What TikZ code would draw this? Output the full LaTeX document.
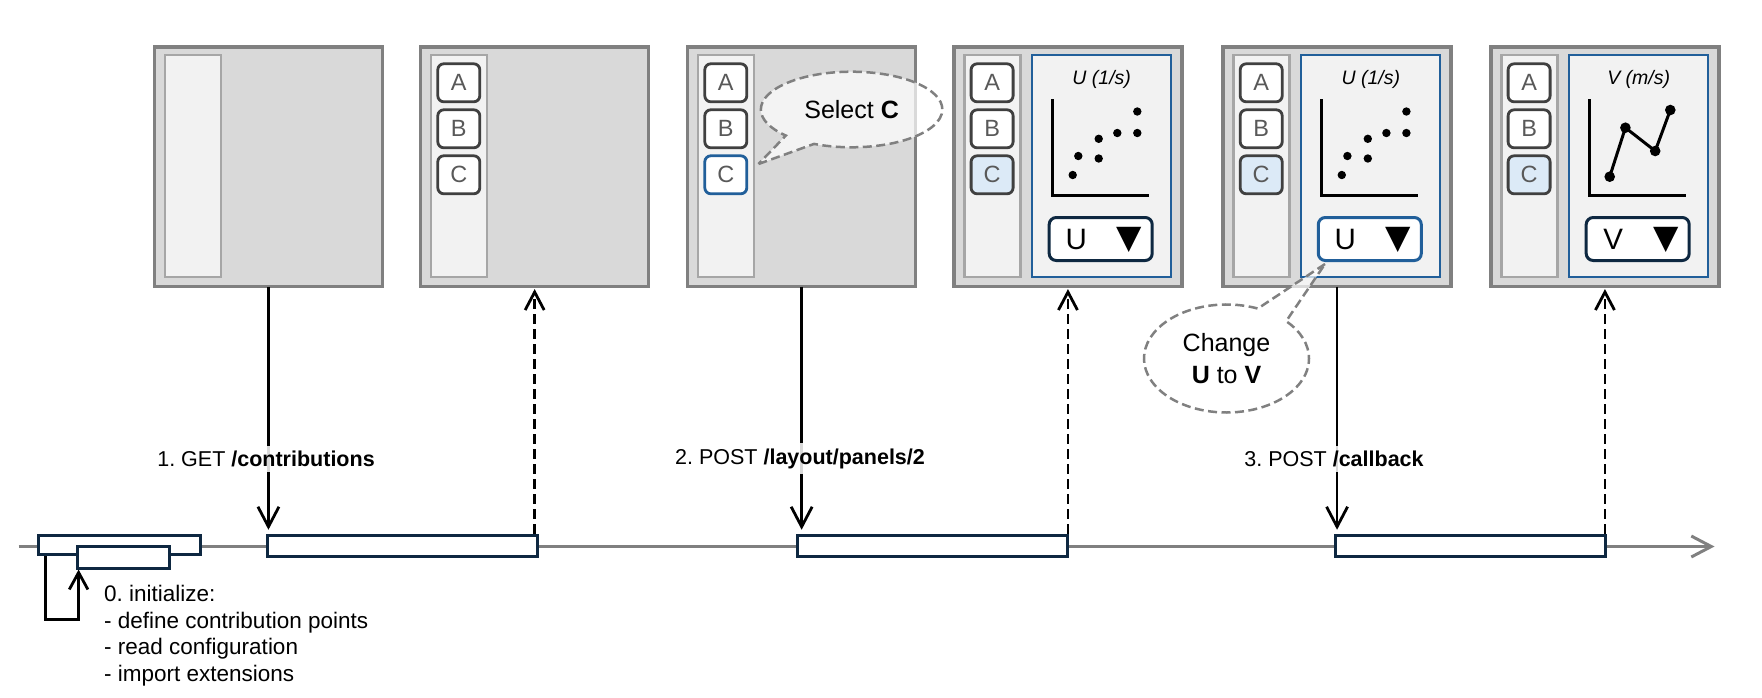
\documentclass[tikz,border=0pt]{standalone}
\usepackage{fontspec}
\setmainfont{Liberation Sans}
\newfontfamily\symfont{DejaVu Sans}
\usetikzlibrary{arrows.meta,shapes.callouts}
\frenchspacing
\definecolor{panelbg}{HTML}{D9D9D9}
\definecolor{pborder}{HTML}{808080}
\definecolor{sidebg}{HTML}{F2F2F2}
\definecolor{sideborder}{HTML}{A6A6A6}
\definecolor{btnborder}{HTML}{404040}
\definecolor{btntext}{HTML}{595959}
\definecolor{selblue}{HTML}{DCEAF7}
\definecolor{accblue}{HTML}{215F9A}
\definecolor{navy}{HTML}{0E2841}
\definecolor{tlgray}{HTML}{808080}

\newcommand\mkpanel[2]{%
  \node[panel] (#1) at (#2+1.75,46.75) {};
  \node[sidebar] (#1s) at (#2+12.3,55.2) {};
}
\newcommand\mkbtns[3]{%
  \node[btn] (#1A) at (#2+39.9,82.8) {A};
  \node[btn] (#1B) at (#2+39.9,128.8) {B};
  \node[btn,#3] (#1C) at (#2+39.9,174.8) {C};
}
\newcommand\mkplot[3]{%
  \node[plotbox] (#1p) at (#2+79.8,55) {};
  \node[ptitle] (#1t) at (#2+149.5,79.5) {#3};
  \draw[axis] (#2+100.5,99.3) -- (#2+100.5,195.3) -- (#2+196.8,195.3);
}
\newcommand\mkdrop[4]{%
  \node[drop,#4] (#1d) at (#2+148.5,239) {};
  \node[ddtext] (#1dl) at (#2+124,239.5) {#3};
  \node[ddtri] (#1dt) at (#2+177.3,240) {▼};
}
\newcommand\mkscatter[1]{%
  \foreach \px/\py in {120.5/175,126.1/156,146.5/158.5,146.5/138.8,165.1/133,185.1/133,185.1/111.5}
    {\fill (#1+\px,\py) circle[radius=4.2pt];}
}

\begin{document}
\begin{tikzpicture}[x=1pt,y=-1pt,
  panel/.style={draw=pborder,line width=3.5pt,fill=panelbg,minimum width=228pt,minimum height=239.8pt,anchor=north west,inner sep=0pt,outer sep=0pt},
  sidebar/.style={draw=sideborder,line width=2.5pt,fill=sidebg,minimum width=56pt,minimum height=222pt,anchor=north west,inner sep=0pt,outer sep=0pt},
  btn/.style={draw=btnborder,line width=2.8pt,fill=white,rounded corners=6pt,minimum width=42pt,minimum height=38pt,inner sep=0pt,text=btntext,font=\fontsize{23.5}{23.5}\selectfont},
  btnsel/.style={fill=selblue},
  btnfocus/.style={draw=accblue},
  plotbox/.style={draw=accblue,line width=2pt,fill=sidebg,minimum width=138.7pt,minimum height=222.3pt,anchor=north west,inner sep=0pt,outer sep=0pt},
  ptitle/.style={font=\fontsize{19.5}{19.5}\selectfont\itshape,inner sep=0pt},
  axis/.style={line width=3pt},
  drop/.style={draw=navy,line width=3pt,fill=white,rounded corners=7pt,minimum width=103pt,minimum height=43pt,inner sep=0pt},
  dropfocus/.style={draw=accblue},
  ddtext/.style={font=\fontsize{29.5}{29.5}\selectfont,inner sep=0pt},
  ddtri/.style={font=\symfont\fontsize{33}{33}\selectfont,inner sep=0pt},
  act/.style={draw=navy,line width=3pt,fill=white,minimum height=21.5pt,inner sep=0pt,anchor=west},
  req/.style={line width=2.8pt,-{Straight Barb[length=20pt,width=21pt]},shorten >=4pt},
  res/.style={line width=2.8pt,dash pattern=on 10pt off 5pt,-{Straight Barb[length=18pt,width=19pt]},shorten >=2.5pt},
  lbl/.style={fill=white,fill opacity=0.85,text opacity=1,inner xsep=2pt,inner ysep=5pt,font=\fontsize{21.5}{21.5}\selectfont},
  bubble/.style={ellipse callout,draw=pborder,line width=2.5pt,dash pattern=on 9pt off 4.5pt,fill=white,fill opacity=0.7,text opacity=1,inner sep=0pt,font=\fontsize{25}{31.6}\selectfont,align=center},
  timeline/.style={draw=tlgray,line width=3pt,-{Straight Barb[length=20pt,width=21pt]}}
]
\useasboundingbox (0,0) rectangle (1762,697);

% timeline
\coordinate (t0) at (18.6,546.5);
\coordinate (t1) at (1714.5,546.5);
\draw[timeline] (t0) -- (t1);

% panels
\mkpanel{p1}{152.7}
\mkpanel{p2}{418.9}
\mkbtns{p2}{418.9}{}
\mkpanel{p3}{685.9}
\mkbtns{p3}{685.9}{btnfocus}
\mkpanel{p4}{952.2}
\mkbtns{p4}{952.2}{btnsel}
\mkplot{p4}{952.2}{U (1/s)}
\mkscatter{952.2}
\mkdrop{p4}{952.2}{U}{}
\mkpanel{p5}{1221.3}
\mkbtns{p5}{1221.3}{btnsel}
\mkplot{p5}{1221.3}{U (1/s)}
\mkscatter{1221.3}
\mkdrop{p5}{1221.3}{U}{dropfocus}
\mkpanel{p6}{1489.2}
\mkbtns{p6}{1489.2}{btnsel}
\mkplot{p6}{1489.2}{V (m/s)}
\draw[line width=3pt] (1489.2+120.5,176.7) -- (1489.2+136.2,127.7) -- (1489.2+166,151) -- (1489.2+181.1,110);
\foreach \px/\py in {120.5/176.7,136.2/127.7,166/151,181.1/110}
  {\fill (1489.2+\px,\py) circle[radius=5.3pt];}
\mkdrop{p6}{1489.2}{V}{}

% activation boxes
\node[act,minimum width=161.8pt,minimum height=19.7pt] (ib1) at (36.8,544.9) {};
\node[act,minimum width=91.4pt,minimum height=21.3pt] (ib2) at (76.1,557.4) {};
\node[act,minimum width=270pt] (b1) at (265.5,546) {};
\node[act,minimum width=270pt] (b2) at (795.5,546) {};
\node[act,minimum width=270.5pt] (b3) at (1333.5,546) {};

% init loop
\coordinate (lpa) at (45.4,619.3);
\coordinate (lpb) at (78.6,619.3);
\draw[line width=2.8pt,-{Straight Barb[length=17pt,width=18.6pt]}] (lpa |- ib1.south) -- (lpa) -- (lpb) -- (lpb |- ib2.south);
\node[anchor=north west,align=left,inner sep=0pt,font=\fontsize{22.5}{26.7}\selectfont] (init) at (104,585)
  {0. initialize:\\- define contribution points\\- read configuration\\- import extensions};

% requests and responses
\draw[req] (p1.south) -- (p1.south |- b1.north);
\draw[res] (p2.south |- b1.north) -- (p2.south);
\draw[req] (p3.south) -- (p3.south |- b2.north);
\draw[res] (p4.south |- b2.north) -- (p4.south);
\draw[req] (p5.south) -- (p5.south |- b3.north);
\draw[res] (p6.south |- b3.north) -- (p6.south);

\node[lbl] (l1) at (266,458.5) {1. GET \textbf{/contributions}};
\node[lbl] (l2) at (800,458.5) {2. POST \textbf{/layout/panels/2}};
\node[lbl] (l3) at (1334,458.5) {3. POST \textbf{/callback}};

% bubbles
\node[bubble,minimum width=181.5pt,minimum height=75.6pt,callout absolute pointer={(758.5,164)},callout pointer arc=22] (sel) at (851.6,109.5) {Select \textbf{C}};
\node[bubble,minimum width=165pt,minimum height=108pt,callout absolute pointer={(1325,264)},callout pointer arc=24] (chg) at (1226.5,358.5) {Change\\\textbf{U} to \textbf{V}};
\end{tikzpicture}
\end{document}
